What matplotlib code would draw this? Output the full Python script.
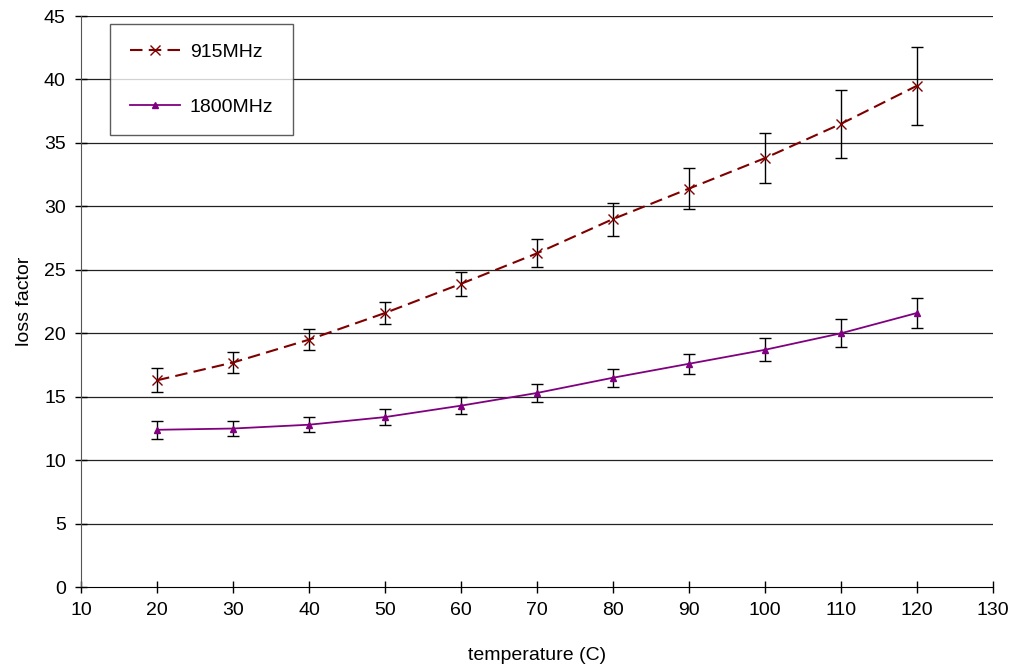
import numpy as np
import matplotlib.pyplot as plt

plt.rcParams['font.family'] = ['Liberation Sans', 'DejaVu Sans']

temp = [20, 30, 40, 50, 60, 70, 80, 90, 100, 110, 120]
loss_915 = [16.3, 17.7, 19.5, 21.6, 23.9, 26.3, 29.0, 31.4, 33.8, 36.5, 39.5]
err_915 = [0.95, 0.85, 0.85, 0.85, 0.95, 1.1, 1.3, 1.6, 1.95, 2.65, 3.05]
loss_1800 = [12.4, 12.5, 12.8, 13.4, 14.3, 15.3, 16.5, 17.6, 18.7, 20.0, 21.6]
err_1800 = [0.7, 0.6, 0.6, 0.6, 0.65, 0.7, 0.7, 0.8, 0.9, 1.1, 1.2]

fig = plt.figure(figsize=(10.13, 6.68), dpi=100)
ax = fig.add_axes([0.080, 0.121, 0.900, 0.855])

for y in range(5, 50, 5):
    ax.axhline(y, color='#222222', lw=0.9, zorder=0)

ax.errorbar(temp, loss_915, yerr=err_915, fmt='none', ecolor='black',
            elinewidth=1, capsize=4, capthick=1, zorder=2)
ax.errorbar(temp, loss_1800, yerr=err_1800, fmt='none', ecolor='black',
            elinewidth=1, capsize=4, capthick=1, zorder=2)
ax.plot(temp, loss_915, color='#800000', ls=(0, (6, 3)), lw=1.5,
        marker='x', ms=7, mew=1, label='915MHz', zorder=3)
ax.plot(temp, loss_1800, color='#800080', ls='-', lw=1.3,
        marker='^', ms=4, label='1800MHz', zorder=3)

ax.set_xlim(10, 130)
ax.set_ylim(0, 45)
ax.set_xticks(range(10, 131, 10))
ax.set_yticks(range(0, 46, 5))
ax.tick_params(direction='inout', length=8, width=1, labelsize=14, pad=7)
for s in ['top', 'right']:
    ax.spines[s].set_visible(False)
ax.spines['left'].set_color('#555555')
ax.set_xlabel('temperature (C)', fontsize=14, labelpad=20)
ax.set_ylabel('loss factor', fontsize=14, labelpad=8)

leg = ax.legend(loc='upper left', bbox_to_anchor=(0.032, 0.986), fontsize=14,
                frameon=True, fancybox=False, edgecolor='#333333',
                labelspacing=1.9, borderpad=1.0, handlelength=2.6,
                handletextpad=0.5, borderaxespad=0)
leg.get_frame().set_linewidth(1)

fig.savefig('out.png', dpi=100)
